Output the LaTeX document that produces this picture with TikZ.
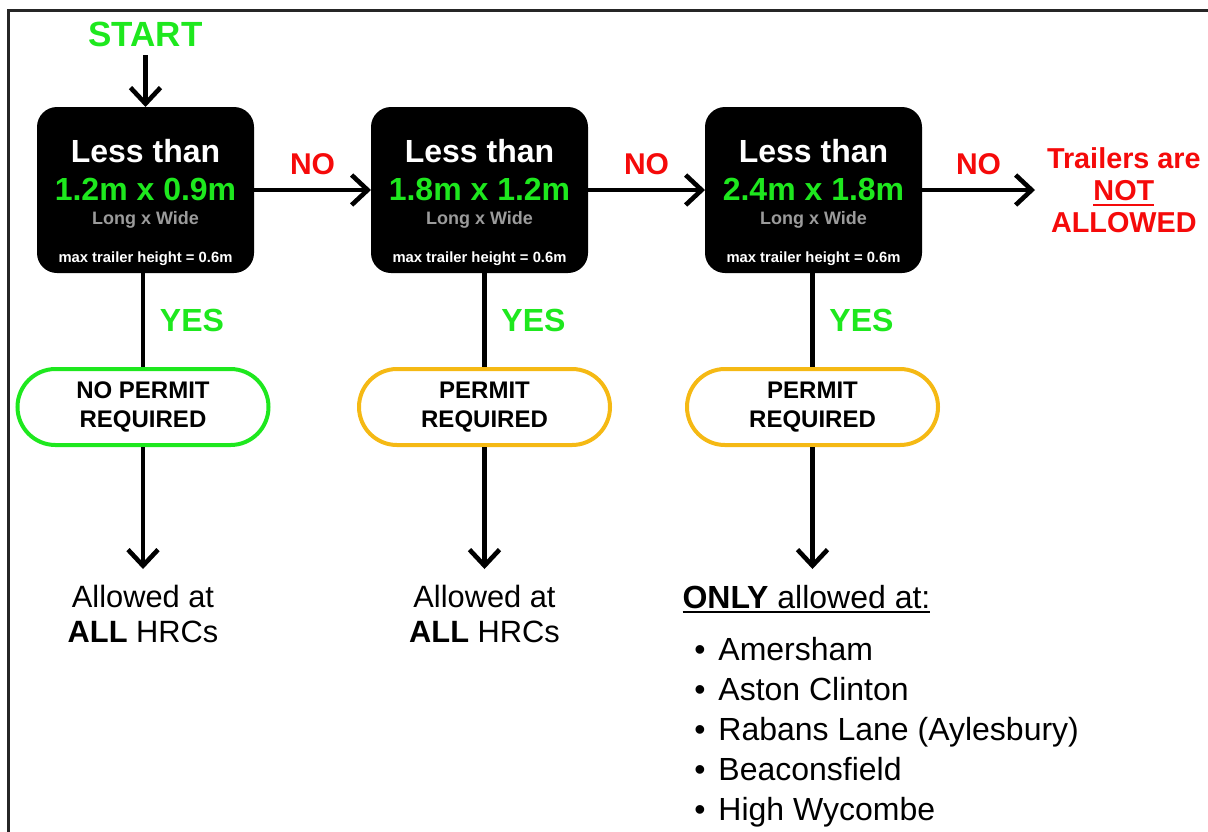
\documentclass[tikz,border=0pt]{standalone}
\usepackage{fontspec}
\setmainfont{Liberation Sans}
\usetikzlibrary{positioning}
\usetikzlibrary{arrows.meta}
\definecolor{okgreen}{RGB}{30,232,30}
\definecolor{stopred}{RGB}{245,10,10}
\definecolor{permitgold}{RGB}{245,185,20}
\definecolor{dimgrey}{RGB}{155,155,155}
\newsavebox{\ulbox}
\newcommand{\thickul}[1]{\sbox\ulbox{#1}\rlap{\rule[-2.6pt]{\wd\ulbox}{1pt}}\usebox\ulbox}
\tikzstyle{sizebox} = [rectangle, rounded corners=10pt, fill=black,
minimum width=108.5pt, minimum height=83pt, outer sep=0pt]
\tikzstyle{boxtext} = [inner sep=0pt, text=white,
font=\bfseries\fontsize{16}{16}\selectfont]
\tikzstyle{pill} = [rectangle, rounded corners=19pt, draw, line width=2pt,
minimum width=125.5pt, minimum height=38pt, align=center,
font=\bfseries\fontsize{12}{14.5}\selectfont]
\tikzstyle{dest} = [align=center, inner sep=8pt, outer sep=0pt,
font=\fontsize{15.4}{17.5}\selectfont]
\tikzstyle{line} = [draw, line width=2.3pt,
-{Straight Barb[length=8pt,width=15pt]}]

\begin{document}
\begin{tikzpicture}[x=0.5pt, y=-0.5pt]
    \clip (0,0) rectangle (1208,831);
    \draw [line width=1.5pt, black!85] (8,10) rectangle (1240,860);
    %% Size checks
    \node [sizebox] (B1) at (145.5,190) {};
    \node [sizebox, right=58.5pt of B1] (B2) {};
    \node [sizebox, right=58.5pt of B2] (B3) {};
    \foreach \b/\dims in {B1/{1.2m x 0.9m}, B2/{1.8m x 1.2m}, B3/{2.4m x 1.8m}} {
      \node [boxtext, anchor=base] (\b-a) at ([yshift=14pt]\b.center) {Less than};
      \node [boxtext, anchor=base, text=okgreen] (\b-b) at ([yshift=-5pt]\b.center) {\dims};
      \node [boxtext, anchor=base, text=dimgrey, font=\bfseries\fontsize{9}{9}\selectfont] (\b-c) at ([yshift=-17pt]\b.center) {Long x Wide};
      \node [boxtext, anchor=base, font=\bfseries\fontsize{7.4}{7.4}\selectfont] (\b-d) at ([yshift=-36pt]\b.center) {max trailer height = 0.6m};
    }
    \node [above=26pt of B1, inner sep=4pt, text=okgreen, font=\bfseries\fontsize{17.5}{17.5}\selectfont] (start) {START};
    \node [right=56.5pt of B3, align=center, inner xsep=6pt, outer sep=0pt, text=stopred, font=\bfseries\fontsize{14.4}{16}\selectfont] (stop) {Trailers are\\\thickul{NOT}\\ALLOWED};
    %% Permits
    \node [pill, draw=okgreen, below=47pt of B1, xshift=-1.25pt] (P1) {NO PERMIT\\REQUIRED};
    \node [pill, draw=permitgold, below=47pt of B2, xshift=2.5pt] (P2) {PERMIT\\REQUIRED};
    \node [pill, draw=permitgold, below=47pt of B3, xshift=-0.5pt] (P3) {PERMIT\\REQUIRED};
    \node [dest, below=61pt of P1] (A1) {Allowed at\\\textbf{ALL} HRCs};
    \node [dest, below=61pt of P2] (A2) {Allowed at\\\textbf{ALL} HRCs};
    \node [dest, below=61pt of P3, xshift=-3pt, font=\fontsize{16}{17.5}\selectfont] (A3) {\thickul{\textbf{ONLY} allowed at:}};
    \foreach \place [count=\i] in {Amersham, Aston Clinton, Rabans Lane (Aylesbury), Beaconsfield, High Wycombe}
      \node [anchor=base west, inner sep=0pt, font=\fontsize{16}{16}\selectfont] (L\i) at (694, {620+40*\i}) {\textbullet\hspace{6.4pt}\place};
    %% Flows
    \path [line] (start) -- (B1);
    \path [line] (B1) to node [midway, above=3pt, text=stopred, font=\bfseries\fontsize{15}{15}\selectfont] (no1) {NO} (B2);
    \path [line] (B2) to node [midway, above=3pt, text=stopred, font=\bfseries\fontsize{15}{15}\selectfont] (no2) {NO} (B3);
    \path [line] (B3) to node [midway, above=3pt, text=stopred, font=\bfseries\fontsize{15}{15}\selectfont] (no3) {NO} (stop);
    \path [draw, line width=2.3pt] (B1.south -| P1) to node [midway, right=4pt, text=okgreen, font=\bfseries\fontsize{16}{16}\selectfont] (yes1) {YES} (P1);
    \path [draw, line width=2.3pt] (B2.south -| P2) to node [midway, right=4pt, text=okgreen, font=\bfseries\fontsize{16}{16}\selectfont] (yes2) {YES} (P2);
    \path [draw, line width=2.3pt] (B3.south -| P3) to node [midway, right=4pt, text=okgreen, font=\bfseries\fontsize{16}{16}\selectfont] (yes3) {YES} (P3);
    \path [line] (P1) -- (A1);
    \path [line] (P2) -- (A2);
    \path [line] (P3) -- (P3 |- A3.north);
\end{tikzpicture}
\end{document}
